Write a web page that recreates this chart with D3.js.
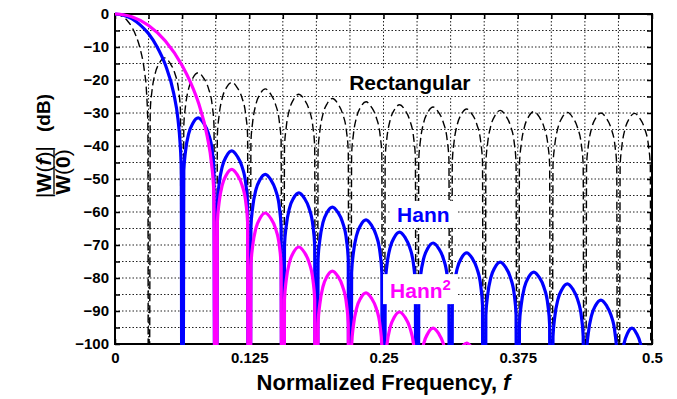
<!DOCTYPE html>
<html>
<head>
<meta charset="utf-8">
<script src="https://cdn.jsdelivr.net/npm/d3@7/dist/d3.min.js"></script>
<style>
  body { margin: 0; background: #fff; }
  svg { display: block; font-family: "Liberation Sans", Arial, sans-serif; font-weight: bold; }
</style>
</head>
<body>
<svg id="chart" width="677" height="399"></svg>
<script>
// frequency bins (1/32 steps) -> vertical grid + nulls
const binEdges = [0, 0.03125, 0.0625, 0.09375, 0.125, 0.15625, 0.1875, 0.21875, 0.25,
  0.28125, 0.3125, 0.34375, 0.375, 0.40625, 0.4375, 0.46875, 0.5];
const xTickLabels = [0, 0.125, 0.25, 0.375, 0.5];
const yGridLevels = [0, -5, -10, -15, -20, -25, -30, -35, -40, -45, -50, -55, -60, -65, -70, -75, -80, -85, -90, -95, -100];
const yTickLabels = [0, -10, -20, -30, -40, -50, -60, -70, -80, -90, -100];

// main lobes, [f, dB]
const rectMain = [[0, 0], [0.0039, -0.22], [0.0078, -0.91], [0.0117, -2.1], [0.0156, -3.9], [0.0195, -6.6],
  [0.0234, -10.5], [0.0273, -17.1], [0.0294, -23.9], [0.0306, -33.8]];
const hannMain = [[0, 0], [0.0078, -0.35], [0.0156, -1.4], [0.0234, -3.3], [0.0313, -6.0], [0.0391, -9.9],
  [0.0469, -15.4], [0.0547, -24.1], [0.0586, -31.8], [0.0606, -39.1], [0.0617, -47]];
const hann2Main = [[0, 0], [0.0078, -0.22], [0.0156, -0.86], [0.0313, -3.5], [0.0469, -8.2], [0.0625, -15.6],
  [0.0703, -20.7], [0.0781, -27.3], [0.0859, -37.1], [0.0898, -45.2], [0.0920, -54]];

// side lobes: [start f, end f, peak dB]
const rectLobes = [[0.03125, 0.0625, -13.3], [0.0625, 0.09375, -17.8], [0.09375, 0.125, -20.7],
  [0.125, 0.15625, -22.7], [0.15625, 0.1875, -24.3], [0.1875, 0.21875, -25.6], [0.21875, 0.25, -26.6],
  [0.25, 0.28125, -27.5], [0.28125, 0.3125, -28.2], [0.3125, 0.34375, -28.8], [0.34375, 0.375, -29.2],
  [0.375, 0.40625, -29.6], [0.40625, 0.4375, -29.8], [0.4375, 0.46875, -30.0], [0.46875, 0.5, -30.1]];
const hannLobes = [[0.0625, 0.09375, -31.5], [0.09375, 0.125, -41.5], [0.125, 0.15625, -48.6],
  [0.15625, 0.1875, -54.2], [0.1875, 0.21875, -58.5], [0.21875, 0.25, -62.4], [0.25, 0.28125, -66.1],
  [0.28125, 0.3125, -69.4], [0.3125, 0.34375, -72.4], [0.34375, 0.375, -75.2], [0.375, 0.40625, -78.2],
  [0.40625, 0.4375, -81.8], [0.4375, 0.46875, -86.7], [0.46875, 0.495, -95.2]];
const hann2Lobes = [[0.09375, 0.125, -47.1], [0.125, 0.15625, -60.3], [0.15625, 0.1875, -70.6],
  [0.1875, 0.21875, -77.9], [0.21875, 0.25, -84.5], [0.25, 0.28125, -90.3], [0.28125, 0.3125, -95.2],
  [0.3125, 0.34375, -99.7], [0.34375, 0.375, -103], [0.375, 0.40625, -106], [0.40625, 0.4375, -109],
  [0.4375, 0.46875, -112], [0.46875, 0.5, -115]];

// shape of one side lobe: [fraction across lobe, dB below its peak]
const lobeProfile = [[0.04, -60], [0.05, -16], [0.1, -10.2], [0.2, -4.6], [0.32, -1.6], [0.48, 0],
  [0.64, -1.6], [0.78, -4.6], [0.9, -10.2], [0.95, -16], [0.96, -60]];
const nullDb = -200;

// labels: text, start f, baseline dB
const labels = [
  { text: 'Rectangular', sup: '', f: 0.218, db: -23.0, color: '#000' },
  { text: 'Hann', sup: '', f: 0.2626, db: -63.0, color: '#0000ff' },
  { text: 'Hann', sup: '2', f: 0.2561, db: -86.1, color: '#ff00ff' }
];

const margin = { top: 14, right: 25, bottom: 55, left: 115 };
const W = 677, H = 399;
const w = W - margin.left - margin.right, h = H - margin.top - margin.bottom;

const svg = d3.select('#chart');
const g = svg.append('g').attr('transform', `translate(${margin.left},${margin.top})`);

const x = d3.scaleLinear().domain([0, 0.5]).range([0, w]);
const y = d3.scaleLinear().domain([-100, 0]).range([h, 0]);

// grid
g.append('g').selectAll('line').data(yGridLevels).join('line')
  .attr('x1', 0).attr('x2', w).attr('y1', d => y(d)).attr('y2', d => y(d))
  .attr('stroke', '#222').attr('stroke-width', 1).attr('stroke-dasharray', '1.5,2');
g.append('g').selectAll('line').data(binEdges).join('line')
  .attr('y1', 0).attr('y2', h).attr('x1', d => x(d)).attr('x2', d => x(d))
  .attr('stroke', '#222').attr('stroke-width', 1).attr('stroke-dasharray', '1.5,2');

// axes (inward ticks)
const fmtX = d => xTickLabels.includes(d) ? String(d) : '';
const fmtY = d => yTickLabels.includes(d) ? d3.format('')(d) : '';
const axB = g.append('g').attr('transform', `translate(0,${h})`)
  .call(d3.axisBottom(x).tickValues(binEdges).tickSize(-5).tickSizeOuter(0).tickPadding(8).tickFormat(fmtX));
const axT = g.append('g')
  .call(d3.axisTop(x).tickValues(binEdges).tickSize(-5).tickSizeOuter(0).tickFormat(''));
const axL = g.append('g')
  .call(d3.axisLeft(y).tickValues(yGridLevels).tickSize(-5).tickSizeOuter(0).tickPadding(6).tickFormat(fmtY));
const axR = g.append('g').attr('transform', `translate(${w},0)`)
  .call(d3.axisRight(y).tickValues(yGridLevels).tickSize(-5).tickSizeOuter(0).tickFormat(''));
[axB, axT, axL, axR].forEach(a => {
  a.attr('font-family', null).attr('font-size', 15).attr('font-weight', 'bold');
  a.selectAll('.tick text').attr('fill', '#000');
  a.selectAll('.tick line').attr('stroke', '#000').attr('stroke-width', 1.5);
  a.select('.domain').remove();
});
g.append('rect').attr('width', w).attr('height', h)
  .attr('fill', 'none').attr('stroke', '#000').attr('stroke-width', 2);

// curves
function buildSeries(main, lobes) {
  const pts = main.slice();
  pts.push([lobes[0][0], nullDb]);
  lobes.forEach(([f0, f1, peak]) => {
    lobeProfile.forEach(([t, off]) => pts.push([f0 + t * (f1 - f0), peak + off]));
    pts.push([f1, nullDb]);
  });
  if (pts[pts.length - 1][0] < 0.5) pts.push([0.5, nullDb]);
  return pts;
}

svg.append('defs').append('clipPath').attr('id', 'plotclip')
  .append('rect').attr('x', 0).attr('y', -3).attr('width', w).attr('height', h + 4);

const line = d3.line().x(d => x(d[0])).y(d => y(d[1])).curve(d3.curveMonotoneX);
const curves = g.append('g').attr('clip-path', 'url(#plotclip)');

curves.append('path').datum(buildSeries(rectMain, rectLobes))
  .attr('d', line).attr('fill', 'none').attr('stroke', '#000')
  .attr('stroke-width', 1.4).attr('stroke-dasharray', '8,4');
curves.append('path').datum(buildSeries(hannMain, hannLobes))
  .attr('d', line).attr('fill', 'none').attr('stroke', '#0000ff').attr('stroke-width', 3.2);
curves.append('path').datum(buildSeries(hann2Main, hann2Lobes))
  .attr('d', line).attr('fill', 'none').attr('stroke', '#ff00ff').attr('stroke-width', 3.2);

// labels with white boxes
labels.forEach(l => {
  const lg = g.append('g');
  const box = lg.append('rect').attr('fill', '#fff');
  const t = lg.append('text').attr('x', x(l.f)).attr('y', y(l.db))
    .attr('font-size', 21).attr('fill', l.color).text(l.text);
  if (l.sup) t.append('tspan').attr('font-size', 15).attr('dy', -8).text(l.sup);
  const bb = t.node().getBBox();
  box.attr('x', bb.x - 7).attr('y', bb.y - 2).attr('width', bb.width + 14).attr('height', bb.height + 4);
});

// x title
svg.append('text').attr('x', margin.left + w / 2).attr('y', 390)
  .attr('text-anchor', 'middle').attr('font-size', 22)
  .text('Normalized Frequency, ')
  .append('tspan').attr('font-style', 'italic').text('f');

// y title: |W(f)| / W(0)  (dB)
const yt = svg.append('g').attr('transform', 'translate(53,172) rotate(-90)');
const num = yt.append('text').attr('x', 0).attr('y', -2).attr('text-anchor', 'middle').attr('font-size', 21);
num.append('tspan').attr('font-weight', 'normal').text('|');
num.append('tspan').text('W');
num.append('tspan').attr('font-weight', 'normal').text('(');
num.append('tspan').attr('font-style', 'italic').text('f');
num.append('tspan').attr('font-weight', 'normal').text(')|');
yt.append('line').attr('x1', -22).attr('x2', 22).attr('y1', 1).attr('y2', 1)
  .attr('stroke', '#000').attr('stroke-width', 1.3);
const den = yt.append('text').attr('x', 0).attr('y', 17).attr('text-anchor', 'middle').attr('font-size', 21);
den.append('tspan').text('W');
den.append('tspan').attr('font-weight', 'normal').text('(');
den.append('tspan').text('0');
den.append('tspan').attr('font-weight', 'normal').text(')');
yt.append('text').attr('x', 59).attr('y', -3).attr('text-anchor', 'middle').attr('font-size', 19).text('(dB)');
</script>
</body>
</html>
